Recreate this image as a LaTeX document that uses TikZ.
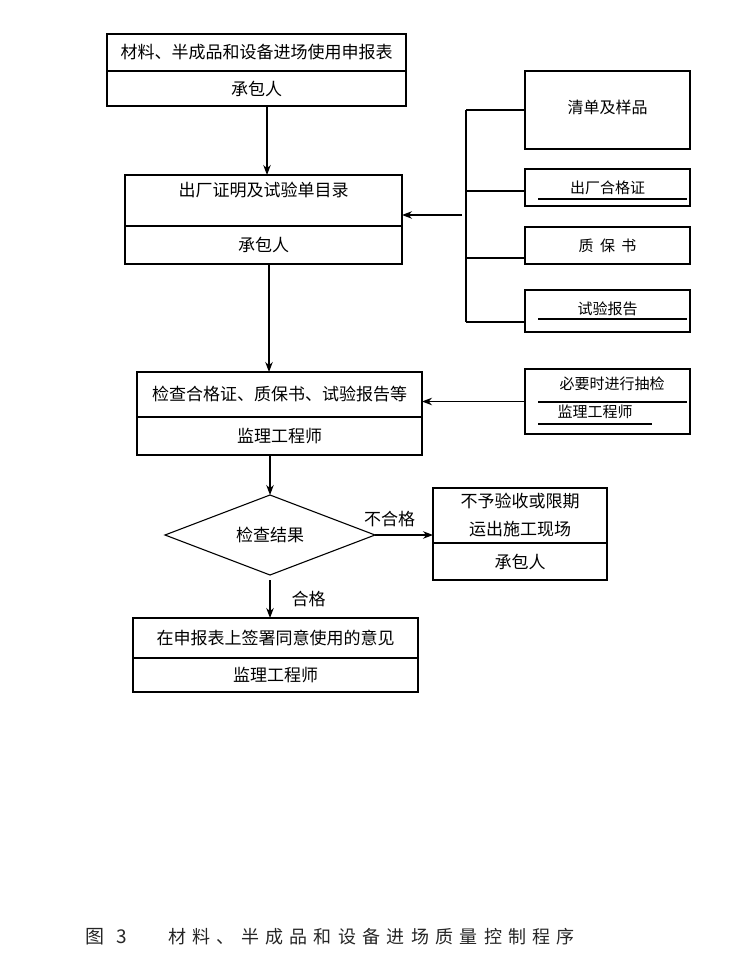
\documentclass[tikz,border=0pt]{standalone}
\usepackage{fontspec}
\newfontfamily\cjk{Noto Sans CJK SC}
\newfontfamily\capfont[LetterSpace=35]{Noto Sans CJK SC}
\usetikzlibrary{positioning,shapes.geometric,arrows.meta}

\begin{document}
\begin{tikzpicture}[
        x=1pt, y=-1pt,
        every node/.style={
            inner sep=0pt,
            align=center,
            font=\cjk\fontsize{17}{28}\selectfont
        },
        part/.style={
            rectangle,
            draw,
            line width=1.1pt,
            outer sep=0pt
        },
        doc/.style={
            rectangle,
            draw,
            line width=1.1pt,
            outer sep=0pt,
            minimum width=165pt,
            font=\cjk\fontsize{15}{18}\selectfont
        },
        arrow/.style={
            ->,
            >={Stealth[length=10pt, width=7.5pt]},
            line width=1.1pt
        },
        wire/.style={
            line width=1.1pt
        }
    ]
        \useasboundingbox (0,0) rectangle (751,976);

        % main column
        \node[part, minimum width=299pt, minimum height=37pt] (apply) at (256.5,52.5) {材料、半成品和设备进场使用申报表};
        \node[part, minimum width=299pt, minimum height=35pt, below=0pt of apply] (applyby) {承包人};
        \node[part, minimum width=277pt, minimum height=51pt, text depth=22pt] (list) at (263.5,200.5) {出厂证明及试验单目录};
        \node[part, minimum width=277pt, minimum height=38pt, below=0pt of list] (listby) {承包人};
        \node[part, minimum width=285pt, minimum height=45pt] (check) at (279.5,394.5) {检查合格证、质保书、试验报告等};
        \node[part, minimum width=285pt, minimum height=38pt, below=0pt of check] (checkby) {监理工程师};
        \node[diamond, draw, line width=1.1pt, outer sep=0pt, aspect=2.6,
              minimum width=210pt, minimum height=80pt] (result) at (270,535) {检查结果};
        \node[part, minimum width=174pt, minimum height=55pt] (reject) at (520,515.5) {不予验收或限期\\运出施工现场};
        \node[part, minimum width=174pt, minimum height=37pt, below=0pt of reject] (rejectby) {承包人};
        \node[part, minimum width=285pt, minimum height=40pt] (sign) at (275.5,638) {在申报表上签署同意使用的意见};
        \node[part, minimum width=285pt, minimum height=34pt, below=0pt of sign] (signby) {监理工程师};

        % documents on the right
        \node[doc, minimum height=78pt, text depth=6pt, font=\cjk\fontsize{16}{18}\selectfont] (sample) at (607.5,110) {清单及样品};
        \node[doc, minimum height=37pt] (cert) at (607.5,187.5) {出厂合格证};
        \node[doc, minimum height=37pt] (guar) at (607.5,245.5) {质\hspace{6.5pt}保\hspace{6.5pt}书};
        \node[doc, minimum height=42pt, text depth=6pt] (test) at (607.5,311) {试验报告};
        \node[doc, minimum height=65pt] (spot) at (607.5,401.5) {};
        \node[font=\cjk\fontsize{15}{18}\selectfont] (spotdo) at (612,384) {必要时进行抽检};
        \node[font=\cjk\fontsize{15}{18}\selectfont] (spotby) at (595,412) {监理工程师};

        \draw[wire] ([shift={(13,-7)}]cert.south west) -- ([shift={(-3,-7)}]cert.south east);
        \draw[wire] ([shift={(13,-13)}]test.south west) -- ([shift={(-3,-13)}]test.south east);
        \draw[wire] ([shift={(13,33)}]spot.north west) -- ([shift={(-3,33)}]spot.north east);
        \draw[wire] ([shift={(13,55)}]spot.north west) -- ([shift={(127,55)}]spot.north west);

        % bracket
        \coordinate (bustop) at (466,110);
        \coordinate (busend) at (466,322);
        \coordinate (fork) at (462,215);
        \draw[wire] (bustop) -- (busend);
        \draw[wire] (sample.west) -- (sample.west -| bustop);
        \draw[wire] ([yshift=-3.5pt]cert.west) -- ([yshift=-3.5pt]cert.west -| bustop);
        \draw[wire] ([yshift=-12.5pt]guar.west) -- ([yshift=-12.5pt]guar.west -| bustop);
        \draw[wire] ([yshift=-11pt]test.west) -- ([yshift=-11pt]test.west -| bustop);
        \draw[arrow] (fork) -- (fork -| list.east);
        \draw[arrow] (spot.west) -- (spot.west -| check.east);

        % flow
        \draw[arrow] ([xshift=10.5pt]applyby.south) -- ([xshift=10.5pt]applyby.south |- list.north);
        \draw[arrow] ([xshift=5.5pt]listby.south) -- ([xshift=5.5pt]listby.south |- check.north);
        \draw[arrow] (checkby.south -| result.north) -- (result.north);
        \draw[arrow] (result.east) -- (result.east -| reject.west)
            node[pos=0.25, above=8pt] {不合格};
        \draw[arrow] ([yshift=-5pt]result.south) -- (result.south |- sign.north)
            node[midway, right=21pt] {合格};

        % caption
        \node[anchor=west, font=\cjk\fontsize{19}{22}\selectfont, text=black!85] (fignum) at (85,937) {图\hspace{12pt}3};
        \node[anchor=west, font=\capfont\fontsize{18}{22}\selectfont, text=black!85] (figtitle) at (168,937) {材料、半成品和设备进场质量控制程序};
\end{tikzpicture}
\end{document}
